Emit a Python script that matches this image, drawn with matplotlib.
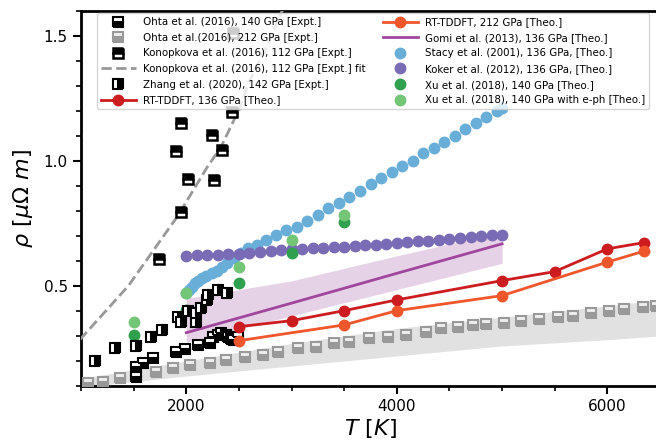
import numpy as np
from matplotlib import pyplot as plt
from matplotlib.ticker import MultipleLocator

# ---- data (T in K, rho in micro-Ohm m) ----
ohta140_T = [1526, 1526, 1589, 1684, 1905, 1984, 2111, 2221, 2253, 2301, 2332, 2380, 2396, 2427, 2443, 2490]
ohta140_rho = [0.177, 0.137, 0.191, 0.211, 0.237, 0.247, 0.262, 0.271, 0.297, 0.304, 0.313, 0.304, 0.295, 0.287, 0.284, 0.295]

ohta212_T = [1067, 1210, 1367, 1526, 1716, 1874, 2032, 2221, 2380, 2553, 2728, 2870,
             3060, 3233, 3407, 3549, 3739, 3914, 4087, 4277, 4420, 4578, 4720,
             4846, 5014, 5178, 5352, 5527, 5669, 5843, 6016, 6158, 6342, 6459]
ohta212_rho = [0.111, 0.117, 0.131, 0.144, 0.157, 0.171, 0.184, 0.191, 0.204, 0.217, 0.224, 0.237,
               0.251, 0.257, 0.271, 0.277, 0.291, 0.297, 0.304, 0.317, 0.331, 0.337, 0.344,
               0.348, 0.353, 0.360, 0.369, 0.377, 0.381, 0.391, 0.401, 0.407, 0.415, 0.420]
ohta212_band_T = [1000, 2000, 3000, 4000, 5000, 6000, 6500]
ohta212_band_lo = [0.095, 0.140, 0.180, 0.220, 0.260, 0.285, 0.300]
ohta212_band_hi = [0.130, 0.200, 0.270, 0.330, 0.375, 0.420, 0.445]

konop_T = [1953, 2244, 1905, 2339, 2016, 2262, 1953, 1741, 2433, 2443]
konop_rho = [1.151, 1.104, 1.037, 1.041, 0.928, 0.924, 0.795, 0.607, 1.193, 1.51]
konop_fit_T = [900, 1000, 1450, 1920, 2200, 2330, 2450, 2500, 2590, 2780, 2900, 3000]
konop_fit_rho = [0.24, 0.29, 0.50, 0.78, 0.975, 1.055, 1.16, 1.20, 1.31, 1.47, 1.59, 1.66]

zhang_T = [1130, 1320, 1526, 1668, 1769, 1921, 1953, 2016, 2095, 2095, 2142, 2199, 2206, 2301, 2389]
zhang_rho = [0.200, 0.251, 0.261, 0.295, 0.324, 0.377, 0.357, 0.401, 0.357, 0.390, 0.410, 0.444, 0.464, 0.484, 0.473]

rt136_T = [2500, 3000, 3500, 4000, 5000, 5500, 6000, 6350]
rt136_rho = [0.337, 0.361, 0.401, 0.444, 0.521, 0.557, 0.648, 0.673]
rt212_T = [2500, 3500, 4000, 5000, 6000, 6350]
rt212_rho = [0.281, 0.344, 0.401, 0.461, 0.595, 0.639]

gomi_T = [2000, 3000, 4000, 5000]
gomi_rho = [0.313, 0.431, 0.550, 0.668]
gomi_lo = [0.275, 0.380, 0.485, 0.590]
gomi_hi = [0.450, 0.520, 0.620, 0.715]

stacy_T = [2000, 2025, 2050, 2080, 2110, 2150, 2190, 2240, 2290, 2340, 2390, 2450, 2520, 2590,
           2670, 2760, 2850, 2950, 3050, 3150, 3250, 3350, 3450, 3550, 3650, 3750, 3850,
           3950, 4050, 4150, 4250, 4350, 4450, 4550, 4650, 4750, 4850, 4950, 5000]
stacy_rho = [0.47, 0.485, 0.497, 0.51, 0.52, 0.53, 0.54, 0.55, 0.56, 0.575, 0.59, 0.61, 0.63, 0.65,
             0.665, 0.685, 0.705, 0.725, 0.735, 0.76, 0.785, 0.81, 0.83, 0.855, 0.88, 0.905, 0.93,
             0.955, 0.98, 1.00, 1.03, 1.05, 1.075, 1.10, 1.125, 1.15, 1.175, 1.20, 1.21]

koker_T = list(range(2000, 5001, 100))
koker_rho = [0.620, 0.622, 0.623, 0.625, 0.626, 0.628, 0.630, 0.634, 0.638, 0.642, 0.646,
             0.648, 0.650, 0.652, 0.654, 0.656, 0.659, 0.662, 0.665, 0.668, 0.672,
             0.675, 0.678, 0.681, 0.684, 0.688, 0.692, 0.695, 0.698, 0.702, 0.705]

xu_T = [1500, 2000, 2500, 3000, 3500]
xu_rho = [0.304, 0.404, 0.511, 0.631, 0.755]
xu_eph_rho = [0.357, 0.471, 0.577, 0.684, 0.784]


def main():
    fig = plt.figure(figsize=(6.56, 4.45), dpi=100)
    ax = fig.add_axes([0.1235, 0.1326, 0.8826, 0.8438])

    ax.fill_between(ohta212_band_T, ohta212_band_lo, ohta212_band_hi,
                    color='#e1e1e1', lw=0, zorder=1)
    ax.fill_between(gomi_T, gomi_lo, gomi_hi, color='#e6d2e6', lw=0, zorder=1)

    sq = dict(ls='none', marker='s', ms=6.5, mew=1.5, markerfacecoloralt='white')
    ax.plot(ohta140_T, ohta140_rho, fillstyle='bottom', color='black',
            mfc='black', mec='black', label='Ohta et al. (2016), 140 GPa [Expt.]', zorder=4, **sq)
    ax.plot(ohta212_T, ohta212_rho, fillstyle='bottom', color='#999999',
            mfc='#999999', mec='#999999', label='Ohta et al.(2016), 212 GPa [Expt.]', zorder=3,
            **dict(sq, markerfacecoloralt='#eeeeee'))
    ax.plot(konop_T, konop_rho, fillstyle='top', color='black', mfc='black', mec='black',
            label='Konopkova et al. (2016), 112 GPa [Expt.]', zorder=4,
            **dict(sq, ms=7.5, mew=1.8))
    ax.plot(konop_fit_T, konop_fit_rho, '--', color='#999999', lw=2,
            label='Konopkova et al. (2016), 112 GPa [Expt.] fit', zorder=3)
    ax.plot(zhang_T, zhang_rho, fillstyle='right', color='black', mfc='black', mec='black',
            label='Zhang et al. (2020), 142 GPa [Expt.]', zorder=4, **sq)
    ax.plot(rt136_T, rt136_rho, 'o-', color='#cc1c1f', lw=2, ms=7.5,
            label='RT-TDDFT, 136 GPa [Theo.]', zorder=5)
    ax.plot(rt212_T, rt212_rho, 'o-', color='#f0562c', lw=2, ms=7.5,
            label='RT-TDDFT, 212 GPa [Theo.]', zorder=5)
    ax.plot(gomi_T, gomi_rho, '-', color='#a0479d', lw=2,
            label='Gomi et al. (2013), 136 GPa [Theo.]', zorder=2)
    ax.plot(stacy_T, stacy_rho, 'o', color='#69aed8', ms=7.5, ls='none',
            label='Stacy et al. (2001), 136 GPa, [Theo.]', zorder=3)
    ax.plot(koker_T, koker_rho, 'o', color='#7a6bb6', ms=7.5, ls='none',
            label='Koker et al. (2012), 136 GPa, [Theo.]', zorder=3)
    ax.plot(xu_T, xu_rho, 'o', color='#2fa04e', ms=7.5, ls='none',
            label='Xu et al. (2018), 140 GPa [Theo.]', zorder=3)
    ax.plot(xu_T, xu_eph_rho, 'o', color='#74c677', ms=7.5, ls='none',
            label='Xu et al. (2018), 140 GPa with e-ph [Theo.]', zorder=3)

    ax.set_xlim(1000, 6500)
    ax.set_ylim(0.1, 1.6)
    ax.xaxis.set_major_locator(MultipleLocator(2000))
    ax.xaxis.set_minor_locator(MultipleLocator(500))
    ax.yaxis.set_major_locator(MultipleLocator(0.5))
    ax.yaxis.set_minor_locator(MultipleLocator(0.1))
    ax.tick_params(which='major', direction='out', length=6, width=1.5, labelsize=11)
    ax.tick_params(which='minor', direction='out', length=3.5, width=1.2)
    for sp in ax.spines.values():
        sp.set_linewidth(2)

    ax.set_xlabel(r'$T\ [K]$', fontsize=16, labelpad=2)
    ax.set_ylabel(r'$\rho\ [\mu\Omega\ m]$', fontsize=16, labelpad=6)

    ax.legend(ncol=2, fontsize=7.35, loc='upper left', bbox_to_anchor=(0.0276, 0.993),
              borderaxespad=0, handlelength=3.4, handletextpad=0.7, columnspacing=1.7,
              labelspacing=0.55)

    fig.savefig('out.png', dpi=100)


if __name__ == "__main__":
    main()
